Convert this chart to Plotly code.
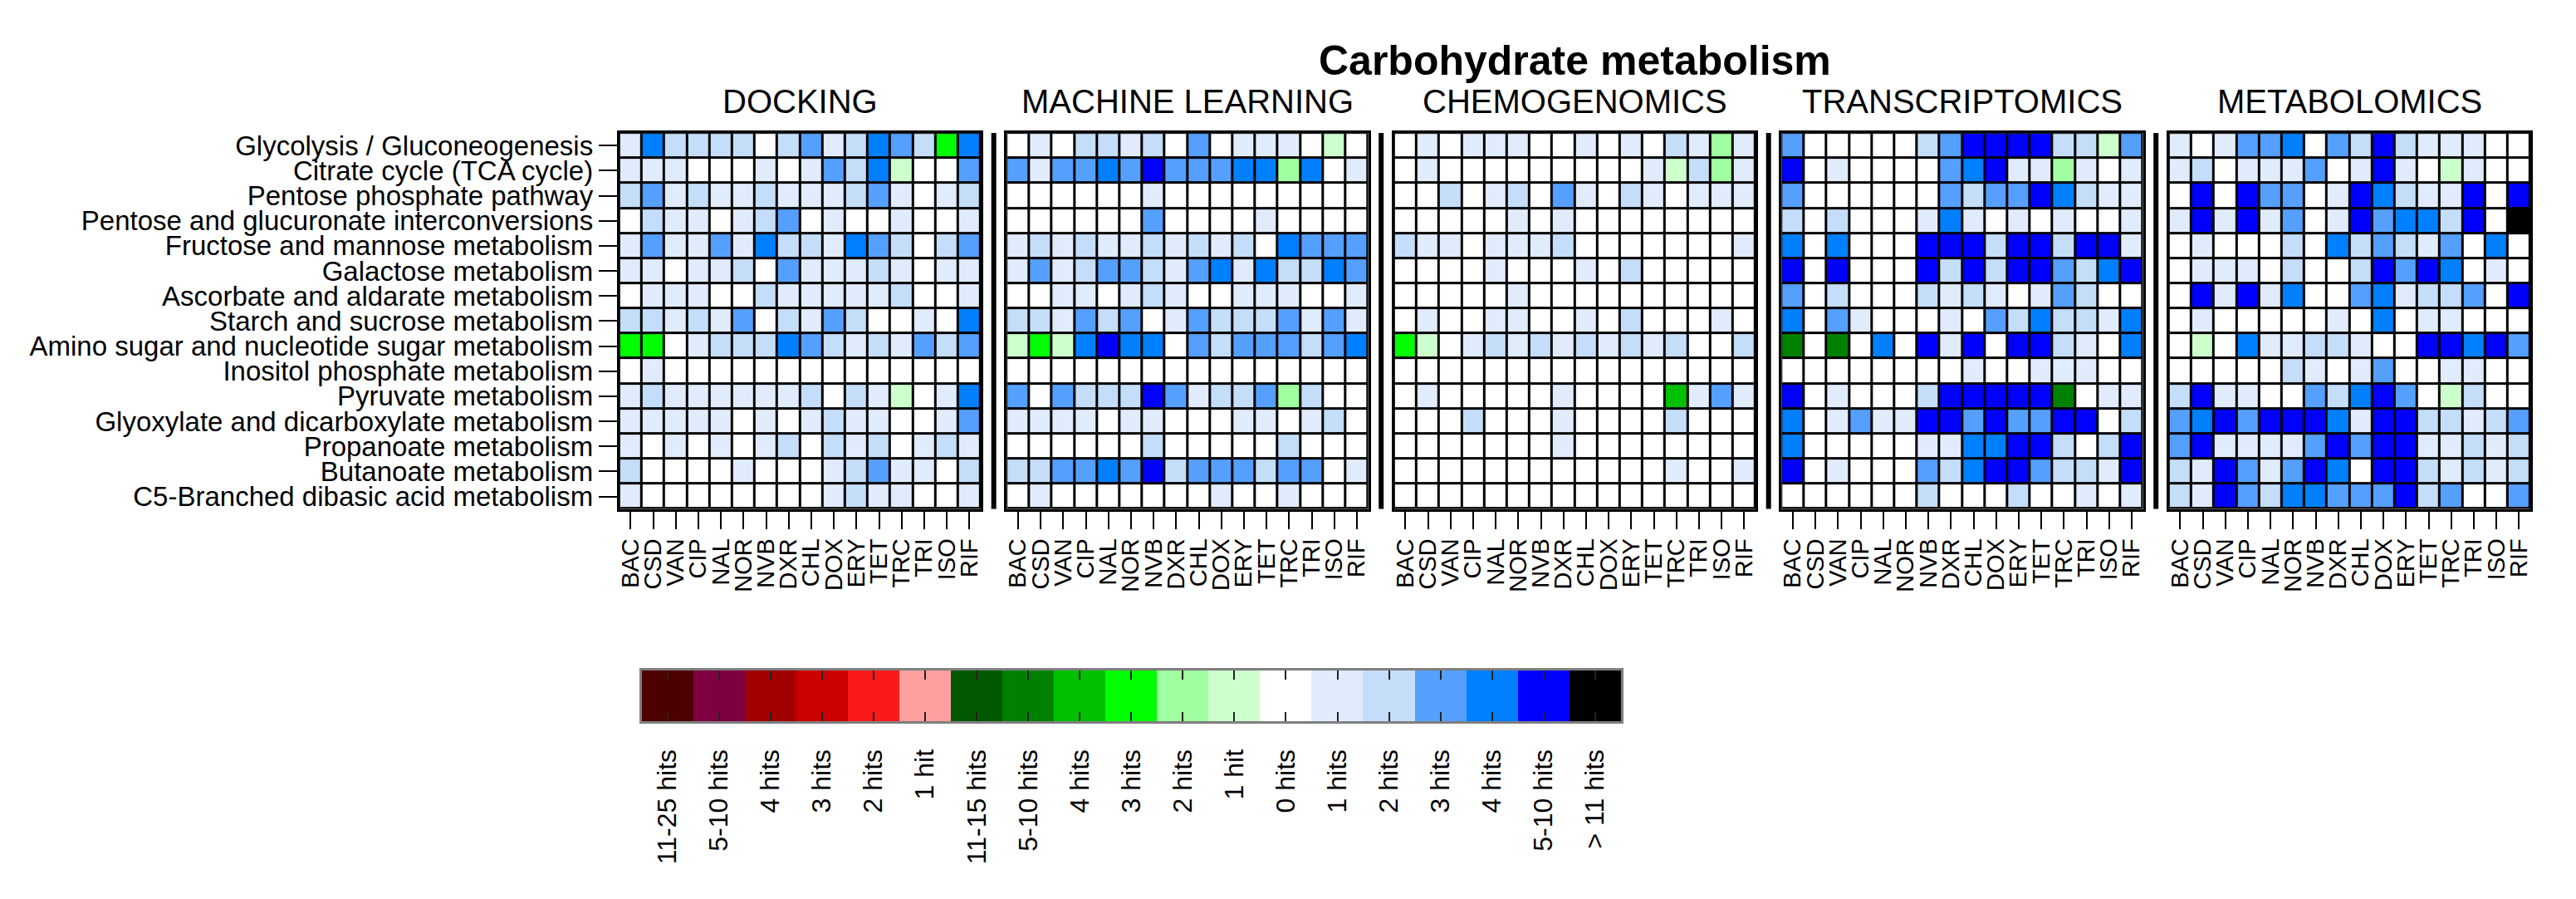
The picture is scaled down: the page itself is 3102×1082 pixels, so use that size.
import plotly.graph_objects as go

W, H = 3102, 1082

title = "Carbohydrate metabolism"
methods = ["DOCKING", "MACHINE LEARNING", "CHEMOGENOMICS", "TRANSCRIPTOMICS", "METABOLOMICS"]
drugs = ["BAC", "CSD", "VAN", "CIP", "NAL", "NOR", "NVB", "DXR", "CHL", "DOX",
         "ERY", "TET", "TRC", "TRI", "ISO", "RIF"]
pathways = [
    "Glycolysis / Gluconeogenesis",
    "Citrate cycle (TCA cycle)",
    "Pentose phosphate pathway",
    "Pentose and glucuronate interconversions",
    "Fructose and mannose metabolism",
    "Galactose metabolism",
    "Ascorbate and aldarate metabolism",
    "Starch and sucrose metabolism",
    "Amino sugar and nucleotide sugar metabolism",
    "Inositol phosphate metabolism",
    "Pyruvate metabolism",
    "Glyoxylate and dicarboxylate metabolism",
    "Propanoate metabolism",
    "Butanoate metabolism",
    "C5-Branched dibasic acid metabolism",
]

# signed hit classes: positive = blue scale (1,2,3,4,5-10,>11), negative = green scale
docking = [
    [1, 4, 2, 2, 2, 2, 0, 2, 3, 1, 2, 4, 3, 2, -3, 4],
    [1, 1, 1, 0, 0, 0, 1, 0, 1, 3, 2, 4, -1, 0, 0, 3],
    [2, 3, 1, 2, 1, 1, 2, 1, 1, 1, 2, 3, 1, 0, 1, 2],
    [0, 2, 1, 1, 0, 1, 2, 3, 0, 1, 0, 0, 1, 0, 0, 1],
    [1, 3, 1, 1, 3, 1, 4, 2, 2, 1, 4, 3, 2, 0, 2, 3],
    [1, 1, 0, 1, 1, 2, 0, 3, 1, 1, 1, 2, 1, 0, 1, 1],
    [0, 1, 1, 1, 0, 0, 2, 1, 1, 1, 1, 1, 2, 0, 0, 1],
    [2, 2, 1, 2, 1, 3, 0, 2, 1, 3, 2, 0, 0, 1, 0, 4],
    [-3, -3, 0, 1, 2, 2, 2, 4, 3, 2, 1, 2, 1, 3, 2, 3],
    [0, 1, 0, 0, 0, 0, 0, 0, 0, 0, 0, 0, 0, 0, 0, 0],
    [1, 2, 1, 1, 1, 1, 1, 1, 2, 0, 2, 1, -1, 0, 1, 4],
    [1, 1, 1, 1, 1, 0, 1, 0, 1, 2, 1, 1, 0, 0, 1, 3],
    [1, 0, 1, 0, 1, 0, 1, 2, 0, 2, 1, 2, 0, 1, 2, 1],
    [2, 0, 0, 0, 0, 1, 0, 0, 0, 1, 2, 3, 1, 1, 0, 2],
    [1, 0, 0, 0, 0, 0, 0, 0, 0, 1, 2, 1, 1, 0, 0, 1],
]
machine_learning = [
    [0, 1, 0, 2, 2, 1, 2, 0, 3, 0, 1, 1, 1, 0, -1, 0],
    [3, 1, 3, 3, 4, 3, 5, 3, 3, 3, 4, 4, -2, 4, 0, 1],
    [0, 0, 0, 0, 0, 0, 1, 0, 0, 0, 0, 0, 0, 0, 0, 0],
    [0, 0, 0, 0, 0, 0, 3, 0, 0, 0, 0, 1, 0, 0, 0, 0],
    [1, 2, 1, 2, 1, 1, 2, 1, 2, 1, 2, 0, 4, 3, 3, 3],
    [1, 3, 1, 2, 3, 3, 2, 1, 3, 4, 1, 4, 2, 2, 4, 3],
    [0, 0, 1, 1, 0, 1, 2, 1, 0, 0, 1, 1, 1, 0, 0, 1],
    [2, 2, 1, 3, 2, 3, 0, 1, 3, 2, 2, 2, 3, 1, 3, 1],
    [-1, -3, -1, 4, 5, 4, 4, 0, 3, 2, 3, 3, 3, 2, 3, 4],
    [0, 0, 0, 0, 0, 0, 0, 0, 0, 0, 0, 0, 0, 0, 0, 0],
    [3, 0, 3, 2, 2, 2, 5, 3, 1, 2, 2, 3, -2, 2, 0, 0],
    [1, 1, 1, 1, 0, 1, 1, 0, 0, 0, 1, 1, 0, 1, 2, 0],
    [0, 0, 0, 0, 0, 0, 2, 0, 0, 0, 0, 0, 2, 0, 0, 0],
    [2, 2, 3, 3, 4, 3, 5, 2, 3, 3, 3, 2, 3, 3, 0, 1],
    [0, 1, 0, 0, 0, 0, 0, 0, 0, 1, 0, 0, 1, 0, 0, 0],
]
chemogenomics = [
    [0, 1, 0, 1, 1, 1, 0, 0, 1, 0, 1, 0, 2, 1, -2, 1],
    [0, 1, 0, 0, 0, 0, 0, 0, 0, 0, 0, 1, -1, 2, -2, 1],
    [0, 0, 2, 0, 1, 2, 0, 3, 1, 0, 2, 1, 0, 1, 1, 1],
    [0, 0, 0, 0, 0, 1, 0, 1, 0, 0, 0, 0, 0, 0, 0, 0],
    [2, 1, 1, 0, 1, 1, 1, 2, 0, 0, 0, 0, 0, 0, 0, 1],
    [0, 0, 0, 0, 1, 0, 0, 0, 1, 0, 2, 0, 0, 0, 0, 0],
    [0, 0, 0, 0, 0, 1, 0, 0, 0, 0, 0, 0, 0, 0, 0, 0],
    [0, 1, 0, 0, 1, 1, 0, 0, 1, 0, 2, 0, 0, 0, 1, 0],
    [-3, -1, 0, 1, 2, 1, 2, 1, 2, 1, 2, 1, 2, 0, 0, 2],
    [0, 0, 0, 0, 0, 0, 0, 0, 0, 0, 0, 0, 0, 0, 0, 0],
    [0, 1, 0, 0, 0, 0, 0, 1, 0, 0, 0, 0, -4, 1, 3, 1],
    [0, 0, 0, 2, 0, 0, 0, 1, 0, 0, 0, 0, 2, 0, 0, 0],
    [0, 0, 0, 0, 0, 0, 0, 1, 0, 0, 0, 0, 0, 0, 0, 0],
    [0, 0, 0, 0, 0, 0, 0, 0, 0, 0, 0, 0, 1, 0, 0, 1],
    [0, 0, 0, 0, 0, 0, 0, 0, 0, 0, 0, 0, 0, 0, 0, 0],
]
transcriptomics = [
    [3, 0, 0, 0, 0, 0, 2, 3, 5, 5, 5, 5, 2, 2, -1, 3],
    [5, 0, 1, 0, 0, 0, 0, 3, 4, 5, 1, 1, -2, 1, 0, 1],
    [3, 0, 0, 0, 0, 0, 0, 3, 2, 3, 3, 5, 4, 2, 1, 1],
    [2, 0, 2, 0, 0, 0, 1, 4, 1, 0, 1, 0, 1, 0, 0, 1],
    [4, 0, 4, 0, 0, 0, 5, 5, 5, 2, 5, 5, 2, 5, 5, 1],
    [5, 0, 5, 0, 0, 0, 5, 2, 5, 2, 5, 5, 3, 2, 4, 5],
    [3, 0, 2, 0, 0, 0, 2, 1, 2, 1, 0, 1, 3, 2, 0, 0],
    [4, 0, 3, 1, 0, 0, 0, 1, 0, 3, 2, 4, 2, 2, 1, 4],
    [-5, 0, -5, 0, 4, 0, 5, 1, 5, 0, 5, 5, 2, 1, 0, 4],
    [0, 0, 0, 0, 0, 0, 0, 0, 1, 0, 0, 1, 1, 1, 0, 0],
    [5, 0, 1, 0, 0, 0, 2, 5, 5, 5, 5, 5, -5, 0, 1, 1],
    [4, 0, 1, 3, 1, 1, 5, 5, 3, 5, 3, 3, 5, 5, 0, 2],
    [4, 0, 0, 0, 0, 0, 1, 1, 4, 4, 5, 5, 2, 0, 2, 5],
    [5, 0, 1, 0, 0, 0, 3, 2, 4, 5, 5, 3, 2, 2, 1, 5],
    [0, 0, 0, 0, 0, 0, 2, 0, 0, 0, 2, 0, 0, 1, 0, 1],
]
metabolomics = [
    [1, 0, 1, 3, 3, 4, 0, 3, 2, 5, 2, 1, 1, 1, 0, 0],
    [1, 2, 0, 1, 1, 1, 3, 0, 1, 5, 1, 0, -1, 1, 0, 0],
    [0, 5, 0, 5, 3, 3, 0, 1, 5, 4, 2, 1, 1, 5, 0, 5],
    [1, 5, 1, 5, 1, 3, 0, 1, 5, 3, 4, 4, 2, 5, 0, 6],
    [0, 1, 0, 0, 0, 2, 0, 4, 2, 3, 2, 1, 3, 0, 4, 0],
    [0, 1, 1, 1, 0, 2, 0, 0, 2, 5, 3, 5, 4, 0, 1, 0],
    [0, 5, 1, 5, 1, 4, 0, 0, 3, 4, 1, 2, 2, 3, 0, 5],
    [0, 1, 0, 0, 0, 0, 0, 1, 0, 4, 0, 1, 1, 0, 0, 0],
    [0, -1, 0, 4, 1, 1, 2, 2, 1, 0, 0, 5, 5, 4, 5, 3],
    [0, 0, 0, 0, 0, 2, 1, 0, 1, 3, 0, 0, 1, 1, 0, 0],
    [2, 5, 1, 1, 0, 0, 3, 2, 4, 5, 3, 0, -1, 2, 0, 0],
    [3, 4, 5, 3, 5, 5, 5, 4, 1, 5, 5, 2, 2, 1, 2, 3],
    [3, 5, 1, 1, 1, 1, 3, 5, 3, 5, 5, 1, 1, 2, 1, 2],
    [2, 1, 5, 3, 1, 3, 5, 4, 0, 5, 5, 2, 1, 2, 1, 2],
    [2, 1, 5, 3, 2, 4, 4, 3, 3, 3, 5, 2, 3, 0, 0, 3],
]

legend_labels = ["11-25 hits", "5-10 hits", "4 hits", "3 hits", "2 hits", "1 hit",
                 "11-15 hits", "5-10 hits", "4 hits", "3 hits", "2 hits", "1 hit",
                 "0 hits", "1 hits", "2 hits", "3 hits", "4 hits", "5-10 hits", "> 11 hits"]
legend_colors = ["#4d0000", "#7f0040", "#a00000", "#cc0000", "#fa1a1a", "#ffa0a0",
                 "#005800", "#008000", "#00c000", "#00ff00", "#a0ffa0", "#ccffcc",
                 "#ffffff", "#e0ebfb", "#c4ddf9", "#559fff", "#0080ff", "#0000ff", "#000000"]

panels = [docking, machine_learning, chemogenomics, transcriptomics, metabolomics]

FONT = "Liberation Sans, Arial, Helvetica, sans-serif"
n = len(legend_colors)
colorscale = []
for i, c in enumerate(legend_colors):
    colorscale.append([i / n, c])
    colorscale.append([(i + 1) / n, c])

ZERO = legend_labels.index("0 hits")


def px(x):
    return x / W


def py(y):
    return 1 - y / H


fig = go.Figure()
layout = {}

grid_top, grid_bottom = 158, 613
panel_w = 436
panel_step = 467.25
left0 = 744

for k, (name, data) in enumerate(zip(methods, panels)):
    sfx = "" if k == 0 else str(k + 1)
    z = [[ZERO + v for v in row] for row in data]
    fig.add_trace(go.Heatmap(
        z=z, x=list(range(len(drugs))), y=list(range(len(pathways))),
        colorscale=colorscale, zmin=-0.5, zmax=n - 0.5, showscale=False,
        xgap=3, ygap=3, xaxis="x" + sfx, yaxis="y" + sfx, hoverinfo="skip",
    ))
    x0 = left0 + k * panel_step
    layout["xaxis" + sfx] = dict(
        domain=[px(x0), px(x0 + panel_w)], anchor="y" + sfx,
        range=[-0.5, len(drugs) - 0.5], tickmode="array",
        tickvals=list(range(len(drugs))), ticktext=drugs, tickangle=-90,
        ticks="outside", ticklen=21, tickwidth=2, tickcolor="black",
        showline=True, linecolor="black", linewidth=3, mirror=True,
        showgrid=False, zeroline=False,
        tickfont=dict(family=FONT, size=29, color="black"),
    )
    layout["yaxis" + sfx] = dict(
        domain=[py(grid_bottom), py(grid_top)], anchor="x" + sfx,
        range=[len(pathways) - 0.5, -0.5], tickmode="array",
        tickvals=list(range(len(pathways))),
        ticktext=pathways if k == 0 else [""] * len(pathways),
        ticks="outside" if k == 0 else "", ticklen=22, tickwidth=2, tickcolor="black",
        showticklabels=(k == 0),
        showline=True, linecolor="black", linewidth=3, mirror=True,
        showgrid=False, zeroline=False,
        tickfont=dict(family=FONT, size=33, color="black"),
    )
    fig.add_annotation(
        x=px(x0 + panel_w / 2), y=py(120), xref="paper", yref="paper",
        text=name, showarrow=False, xanchor="center", yanchor="middle",
        font=dict(family=FONT, size=40, color="black"),
    )

# thick separators between panels
for k in range(len(methods) - 1):
    xs = left0 + k * panel_step + panel_w + (panel_step - panel_w) / 2
    fig.add_shape(type="line", xref="paper", yref="paper",
                  x0=px(xs), x1=px(xs), y0=py(grid_bottom), y1=py(grid_top),
                  line=dict(color="black", width=6))

# title
fig.add_annotation(
    x=px(left0 + (4 * panel_step + panel_w) / 2), y=py(70), xref="paper", yref="paper",
    text="<b>" + title + "</b>", showarrow=False, xanchor="center", yanchor="middle",
    font=dict(family=FONT, size=50, color="black"),
)

# colour key
fig.add_trace(go.Heatmap(
    z=[list(range(n))], x=list(range(n)), y=[0],
    colorscale=colorscale, zmin=-0.5, zmax=n - 0.5, showscale=False,
    xaxis="x6", yaxis="y6", hoverinfo="skip",
))
layout["xaxis6"] = dict(
    domain=[px(771), px(1952)], anchor="y6", range=[-0.5, n - 0.5],
    tickmode="array", tickvals=list(range(n)), ticktext=legend_labels, tickangle=-90,
    ticks="inside", ticklen=11, tickwidth=2, tickcolor="#222222",
    showline=True, linecolor="#7f7f7f", linewidth=3, mirror="ticks",
    showgrid=False, zeroline=False, ticklabelstandoff=18,
    tickfont=dict(family=FONT, size=32, color="black"),
)
layout["yaxis6"] = dict(
    domain=[py(870), py(808)], anchor="x6", range=[-0.5, 0.5],
    showticklabels=False, ticks="", showline=True, linecolor="#7f7f7f",
    linewidth=3, mirror=True, showgrid=False, zeroline=False,
)

fig.update_layout(
    width=W, height=H, margin=dict(l=0, r=0, t=0, b=0),
    paper_bgcolor="white", plot_bgcolor="black",
    font=dict(family=FONT, color="black"),
    showlegend=False,
    **layout,
)

fig.write_html(
    "out.html",
    config={"displayModeBar": False},
    post_script="document.body.style.margin='0';document.body.style.overflow='hidden';",
)
